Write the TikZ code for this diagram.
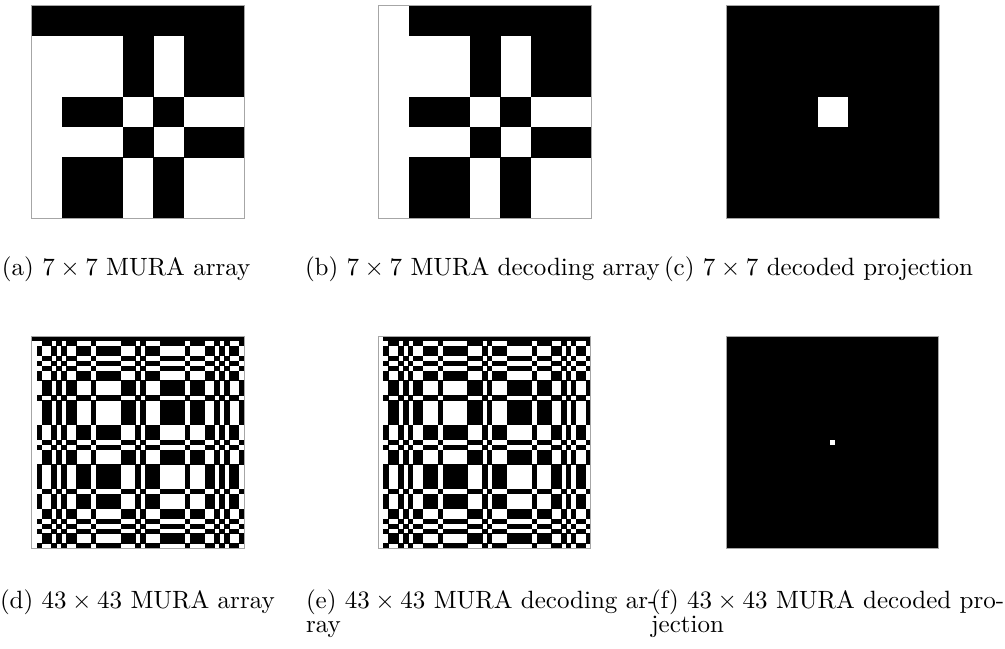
\documentclass[tikz,border=0pt]{standalone}
\tikzset{
  captext/.style={anchor=base west, inner sep=0pt, outer sep=0pt},
  panelborder/.style={draw=black!35, line width=0.5pt},
}
\newcommand\capt[1]{\scalebox{1.25}{#1}}
\newcommand\mkqr[1]{%
  \pgfmathtruncatemacro\mhalf{(#1-1)/2}%
  \foreach \k in {1,...,\mhalf}{%
    \pgfmathtruncatemacro\mres{mod(\k*\k,#1)}%
    \expandafter\xdef\csname qr-#1-\mres\endcsname{1}%
  }%
}
\newcommand\qrv[2]{\ifcsname qr-#1-#2\endcsname 1\else 0\fi}
\newcommand\murapanel[5]{% x0 y0 size p mode(0 array, 1 decoding)
  \pgfmathsetmacro\cellsz{#3/#4}%
  \pgfmathtruncatemacro\pmax{#4-1}%
  \fill[white] (#1,#2) rectangle ++(#3,#3);
  \foreach \i in {0,...,\pmax}{%
    \foreach \j in {0,...,\pmax}{%
      \def\blk{0}%
      \ifnum\i=0
        \def\blk{1}%
        \ifnum#5=1 \ifnum\j=0 \def\blk{0}\fi\fi
      \else
        \ifnum\j=0
        \else
          \ifnum\qrv{#4}{\i}=\qrv{#4}{\j}\relax\else\def\blk{1}\fi
        \fi
      \fi
      \ifnum\blk=1 \fill[black] (#1+\j*\cellsz,#2+\i*\cellsz) rectangle ++(\cellsz+0.4,\cellsz+0.4);\fi
    }%
  }%
  \draw[panelborder] (#1,#2) rectangle ++(#3,#3);
}
\newcommand\decpanel[4]{% x0 y0 size p
  \pgfmathsetmacro\cellsz{#3/#4}%
  \pgfmathtruncatemacro\midc{(#4-1)/2}%
  \fill[black] (#1,#2) rectangle ++(#3,#3);
  \fill[white] (#1+\midc*\cellsz,#2+\midc*\cellsz) rectangle ++(\cellsz,\cellsz);
  \draw[panelborder] (#1,#2) rectangle ++(#3,#3);
}
\mkqr{7}
\mkqr{43}
\begin{document}
\begin{tikzpicture}[x=0.5pt,y=-0.5pt]
\useasboundingbox (0,0) rectangle (1005,648);
\fill[white] (0,0) rectangle (1005,648);
% row 1
\murapanel{31.7}{5.3}{213}{7}{0}
\murapanel{378.5}{5.3}{213}{7}{1}
\decpanel{726.2}{5.3}{213}{7}
% row 2
\murapanel{31.7}{336}{212.3}{43}{0}
\murapanel{378.5}{336}{212.3}{43}{1}
\decpanel{726.2}{336}{212.3}{43}
% captions
\node[captext] (capa) at (2,275) {\capt{(a) $7\times7$ MURA array}};
\node[captext] (capb) at (305,275) {\capt{(b) $7\times7$ MURA decoding array}};
\node[captext] (capc) at (664,275) {\capt{(c) $7\times7$ decoded projection}};
\node[captext] (capd) at (0,608) {\capt{(d) $43\times43$ MURA array}};
\node[captext] (cape1) at (306,608) {\capt{(e) $43\times43$ MURA decoding ar-}};
\node[captext] (cape2) at (306,632) {\capt{ray}};
\node[captext] (capf1) at (651,608) {\capt{(f) $43\times43$ MURA decoded pro-}};
\node[captext] (capf2) at (651,632) {\capt{jection}};
\end{tikzpicture}
\end{document}
